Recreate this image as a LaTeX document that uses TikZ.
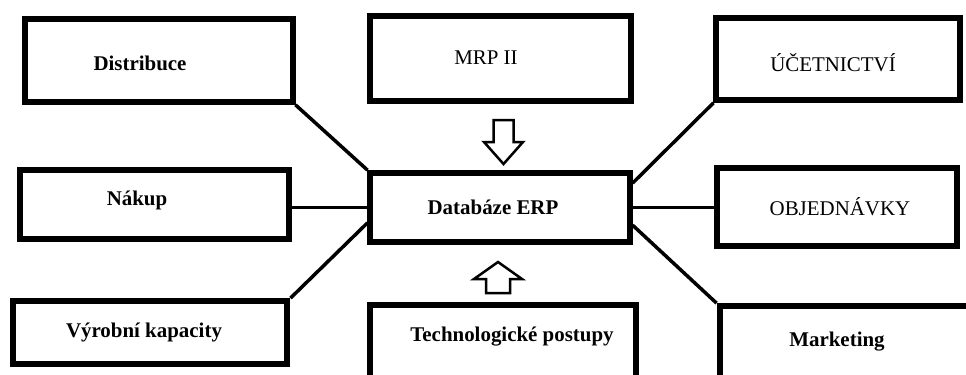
\documentclass[tikz,border=0pt]{standalone}
\usepackage{fontspec}
\setmainfont{Liberation Serif}
\usetikzlibrary{positioning,calc}
\tikzset{line/.style={draw, line width=3.5bp}}

\begin{document}
\begin{tikzpicture}[x=1bp,y=-1bp]
\tikzstyle{block} = [rectangle, draw, line width=6bp, inner sep=0pt]
\tikzstyle{txt} = [font=\fontsize{21}{25}\selectfont\bfseries, inner sep=0pt]
\tikzstyle{txtr} = [font=\fontsize{21}{25}\selectfont, inner sep=0pt]
\tikzstyle{hollow} = [draw, line width=2.5bp, line join=miter, fill=white]

\clip (0,0) rectangle (966,374);
% blocks
    \node [block, minimum width=269, minimum height=83] (dist) at (158.5,60.5) {};
    \node [block, minimum width=271, minimum height=69] (nakup) at (154.5,204.5) {};
    \node [block, minimum width=276, minimum height=63] (vyr) at (150,332.5) {};
    \node [block, minimum width=261, minimum height=85] (mrp) at (500.5,58.5) {};
    \node [block, minimum width=260, minimum height=69] (erp) at (500,207.5) {};
    \node [block, minimum width=267, minimum height=90] (tech) at (502.5,350) {};
    \node [block, minimum width=244, minimum height=82] (uct) at (838,59) {};
    \node [block, minimum width=240, minimum height=78] (obj) at (837,207) {};
    \node [block, minimum width=300, minimum height=90] (mkt) at (869,351) {};
% texts
    \node [txt] (tdist) at (140,63) {Distribuce};
    \node [txt] (tnakup) at (137,200) {Nákup};
    \node [txt] (tvyr) at (144,332) {Výrobní kapacity};
    \node [txtr] (tmrp) at (486,58) {MRP II};
    \node [txt] (terp) at (493,207) {Databáze ERP};
    \node [txt] (ttech) at (512,337) {Technologické postupy};
    \node [txtr] (tuct) at (833,63) {ÚČETNICTVÍ};
    \node [txtr] (tobj) at (840,207) {OBJEDNÁVKY};
    \node [txt] (tmkt) at (837,342) {Marketing};
% lines
    \path [line] (dist.south east) -- (erp.north west);
    \path [line] (erp.west) -- (erp.west -| nakup.east);
    \path [line] (vyr.north east) -- ($(erp.west)!0.41!(erp.south west)$);
    \path [line] (uct.south west) -- ($(erp.east)!0.65!(erp.north east)$);
    \path [line] (erp.east) -- (erp.east -| obj.west);
    \path [line] (mkt.north west) -- ($(erp.east)!0.47!(erp.south east)$);
% arrows
    \coordinate (dtip) at (503.5,164);
    \coordinate (utip) at (498,262);
    \draw [hollow] (dtip) -- ++(-19.5,-22) -- ++(9.5,0) -- ++(0,-22) -- ++(20,0)
        -- ++(0,22) -- ++(9.5,0) -- cycle;
    \draw [hollow] (utip) -- ++(-24,17) -- ++(12,0) -- ++(0,14) -- ++(24,0)
        -- ++(0,-14) -- ++(12,0) -- cycle;
\end{tikzpicture}
\end{document}
